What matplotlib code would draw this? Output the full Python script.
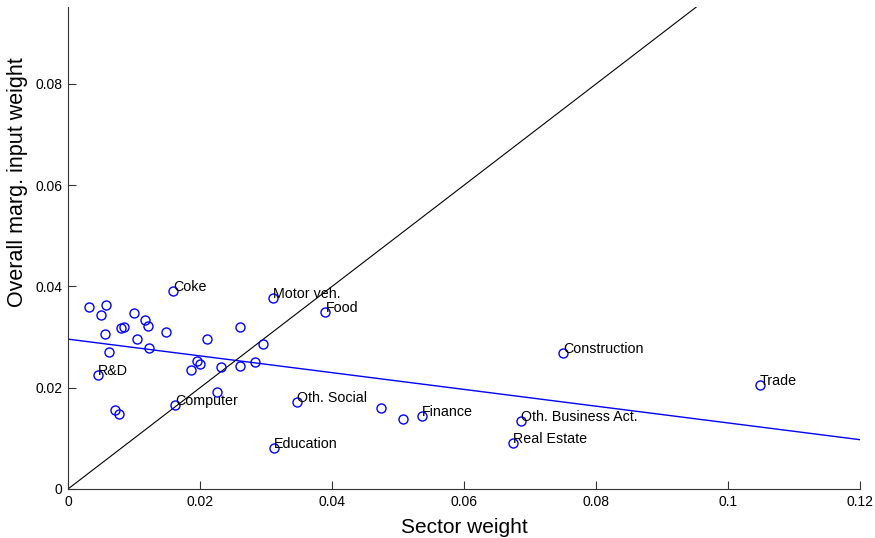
import numpy as np
import matplotlib
matplotlib.use("Agg")
import matplotlib.pyplot as plt

plt.rcParams['font.family'] = ['Liberation Sans', 'DejaVu Sans']

# Sector weight vs. overall marginal input weight, one point per sector
sector_weight = [
    0.0032, 0.0050, 0.0058, 0.0056, 0.0062, 0.0046, 0.0081, 0.0085, 0.0100,
    0.0105, 0.0117, 0.0121, 0.0122, 0.0148, 0.0159, 0.0071, 0.0078, 0.0162,
    0.0210, 0.0261, 0.0295, 0.0187, 0.0195, 0.0200, 0.0232, 0.0260, 0.0283,
    0.0226, 0.0310, 0.0390, 0.0347, 0.0312, 0.0474, 0.0508, 0.0536, 0.0750,
    0.0686, 0.0674, 0.1048,
]
input_weight = [
    0.0359, 0.0344, 0.0364, 0.0306, 0.0271, 0.0225, 0.0318, 0.0320, 0.0348,
    0.0297, 0.0334, 0.0321, 0.0278, 0.0310, 0.0392, 0.0156, 0.0148, 0.0165,
    0.0297, 0.0319, 0.0286, 0.0236, 0.0253, 0.0247, 0.0240, 0.0242, 0.0250,
    0.0192, 0.0378, 0.0350, 0.0172, 0.0080, 0.0159, 0.0139, 0.0144, 0.0269,
    0.0135, 0.0091, 0.0205,
]
sector_names = [
    "", "", "", "", "", "R&D", "", "", "",
    "", "", "", "", "", "Coke", "", "", "Computer",
    "", "", "", "", "", "", "", "", "",
    "", "Motor veh.", "Food", "Oth. Social", "Education", "", "", "Finance", "Construction",
    "Oth. Business Act.", "Real Estate", "Trade",
]

# Fitted line (intercept, slope) and the 45-degree reference line
fit_intercept = 0.0296
fit_slope = -0.1655
diag_end = 0.0952

fig = plt.figure(figsize=(8.75, 5.38), dpi=100)
ax = fig.add_axes([68 / 875, 1 - 489 / 538, (860 - 68) / 875, (489 - 7) / 538])

ax.plot(sector_weight, input_weight, linestyle='none', marker='o',
        markersize=6.5, markerfacecolor='none', markeredgecolor=(0, 0, 1),
        markeredgewidth=1.0, zorder=3)

xs = np.array([0.0, 0.12])
ax.plot(xs, fit_intercept + fit_slope * xs, color=(0, 0, 1), linewidth=1.0)
ax.plot([0, diag_end], [0, diag_end], color='black', linewidth=0.8)

for x, y, name in zip(sector_weight, input_weight, sector_names):
    if name:
        ax.text(x, y, name, ha='left', va='baseline', fontsize=10.3)

ax.set_xlim(0, 0.12)
ax.set_ylim(0, diag_end)
ax.set_xticks([0, 0.02, 0.04, 0.06, 0.08, 0.1, 0.12])
ax.set_xticklabels(["0", "0.02", "0.04", "0.06", "0.08", "0.1", "0.12"])
ax.set_yticks([0, 0.02, 0.04, 0.06, 0.08])
ax.set_yticklabels(["0", "0.02", "0.04", "0.06", "0.08"])
ax.tick_params(direction='in', length=6, width=0.8, labelsize=10, pad=4,
               colors='#333333', labelcolor='black')
ax.spines['top'].set_visible(False)
ax.spines['right'].set_visible(False)
for s in ('left', 'bottom'):
    ax.spines[s].set_color('#333333')
    ax.spines[s].set_linewidth(0.8)

ax.set_xlabel("Sector weight", fontsize=15, labelpad=7)
ax.set_ylabel("Overall marg. input weight", fontsize=15.5)
ax.yaxis.set_label_coords((28 - 68) / 792, (489 - 182) / 482)

fig.savefig("out.png", dpi=100)
